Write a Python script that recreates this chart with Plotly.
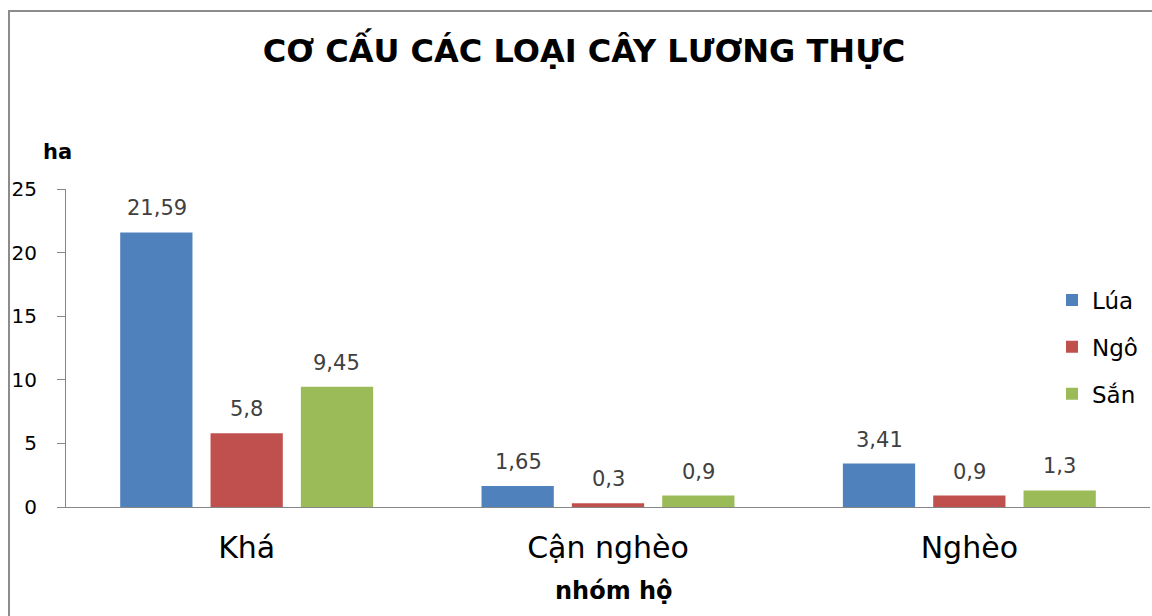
import plotly.graph_objects as go

categories = ["Khá", "Cận nghèo", "Nghèo"]
series_names = ["Lúa", "Ngô", "Sắn"]
lua = [21.59, 1.65, 3.41]
ngo = [5.8, 0.3, 0.9]
san = [9.45, 0.9, 1.3]
colors = ["#4F81BD", "#C0504D", "#9BBB59"]
y_ticks = [0, 5, 10, 15, 20, 25]

W, H = 1152, 616
ML, MR, MT, MB = 66, 2, 189, 109
PW, PH = W - ML - MR, H - MT - MB

def px_x(p):
    return (p - ML) / PW

def px_y(p):
    return (H - MB - p) / PH

FONT = "DejaVu Sans"
fig = go.Figure()
all_vals = [lua, ngo, san]
for i, (name, vals) in enumerate(zip(series_names, all_vals)):
    fig.add_trace(go.Bar(
        x=categories, y=vals, name=name,
        marker=dict(color=colors[i], line=dict(width=0)),
        legendgroup=name,
    ))

annotations = []
offsets = [-90, 0, 90]
for i, vals in enumerate(all_vals):
    for c, v in zip(categories, vals):
        annotations.append(dict(
            x=c, y=v, xref="x", yref="y", xshift=offsets[i], yshift=24,
            text=f"{v:g}".replace(".", ","), showarrow=False,
            font=dict(family=FONT, size=21, color="#404040"),
            xanchor="center", yanchor="middle",
        ))

annotations.append(dict(
    x=px_x(57), y=px_y(152), xref="paper", yref="paper",
    text="<b>ha</b>", showarrow=False,
    font=dict(family=FONT, size=21, color="#000000"),
    xanchor="center", yanchor="middle",
))
annotations.append(dict(
    x=px_x(614), y=px_y(591), xref="paper", yref="paper",
    text="<b>nhóm hộ</b>", showarrow=False,
    font=dict(family=FONT, size=24, color="#000000"),
    xanchor="center", yanchor="middle",
))

fig.update_layout(
    width=W, height=H,
    margin=dict(l=ML, r=MR, t=MT, b=MB),
    paper_bgcolor="white", plot_bgcolor="white",
    barmode="group", bargap=0.25, bargroupgap=0.2,
    title=dict(
        text="<b>CƠ CẤU CÁC LOẠI CÂY LƯƠNG THỰC</b>",
        font=dict(family=FONT, size=32, color="#000000"),
        x=584 / W, xanchor="center", y=1 - 51 / H, yanchor="middle",
    ),
    xaxis=dict(
        showline=True, linecolor="#868686", linewidth=1,
        ticks="", showgrid=False,
        tickfont=dict(family=FONT, size=30, color="#000000"),
        ticklabelstandoff=14,
    ),
    yaxis=dict(
        range=[0, 25], tickvals=y_ticks,
        showline=True, linecolor="#868686", linewidth=1,
        ticks="outside", ticklen=8, tickcolor="#868686",
        showgrid=False, zeroline=False,
        tickfont=dict(family=FONT, size=20, color="#000000"),
        ticklabelstandoff=16,
    ),
    legend=dict(
        x=px_x(1052), xanchor="left", y=px_y(347), yanchor="middle",
        font=dict(family=FONT, size=23, color="#000000"),
        tracegroupgap=14, bgcolor="rgba(0,0,0,0)",
    ),
    annotations=annotations,
    shapes=[dict(
        type="rect", xref="paper", yref="paper",
        x0=px_x(9), x1=px_x(1200), y0=px_y(700), y1=px_y(11),
        line=dict(color="#8C8C8C", width=2), layer="below",
    )],
    showlegend=True,
)

fig.write_html("out.html")
